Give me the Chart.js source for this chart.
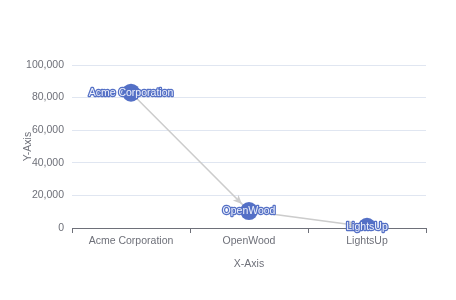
<!DOCTYPE html>
<html>
<head>
<meta charset="utf-8">
<script src="https://cdn.jsdelivr.net/npm/chart.js@4/dist/chart.umd.min.js"></script>
<style>
  html, body { margin: 0; padding: 0; background: #fff; }
  #wrap { width: 456px; height: 300px; }
</style>
</head>
<body>
<div id="wrap"><canvas id="graph"></canvas></div>
<script>
var companies = ['Acme Corporation', 'OpenWood', 'LightsUp'];
var revenue = [83000, 10400, 700];
var yTicks = [0, 20000, 40000, 60000, 80000, 100000];

var blue = '#5470c6';
var axisGrey = '#6E7079';
var edgeGrey = '#cccccc';
var font = { family: 'Liberation Sans, Arial, sans-serif', size: 10.5 };

// arrow heads on each edge, stopping at the next node
var arrowPlugin = {
    id: 'arrows',
    afterDatasetsDraw: function (chart) {
        var pts = chart.getDatasetMeta(0).data;
        var c = chart.ctx;
        for (var i = 0; i < pts.length - 1; i++) {
            var a = pts[i], b = pts[i + 1];
            var ang = Math.atan2(b.y - a.y, b.x - a.x);
            var tipX = b.x - Math.cos(ang) * 10;
            var tipY = b.y - Math.sin(ang) * 10;
            c.save();
            c.translate(tipX, tipY);
            c.rotate(ang);
            c.beginPath();
            c.moveTo(0, 0);
            c.lineTo(-9, -4);
            c.lineTo(-6.5, 0);
            c.lineTo(-9, 4);
            c.closePath();
            c.fillStyle = edgeGrey;
            c.fill();
            c.restore();
        }
    }
};

// node names drawn on top of each circle
var labelPlugin = {
    id: 'nodeLabels',
    afterDatasetsDraw: function (chart) {
        var pts = chart.getDatasetMeta(0).data;
        var c = chart.ctx;
        c.save();
        c.font = font.size + 'px ' + font.family;
        c.textAlign = 'center';
        c.textBaseline = 'middle';
        c.lineJoin = 'round';
        pts.forEach(function (p, i) {
            c.lineWidth = 2.5;
            c.strokeStyle = blue;
            c.strokeText(companies[i], p.x, p.y);
            c.fillStyle = '#eef1fb';
            c.fillText(companies[i], p.x, p.y);
        });
        c.restore();
    }
};

new Chart(document.getElementById('graph'), {
    type: 'line',
    data: {
        labels: companies,
        datasets: [{
            data: revenue,
            borderColor: edgeGrey,
            borderWidth: 1.5,
            pointRadius: 9,
            pointHoverRadius: 9,
            pointBackgroundColor: blue,
            pointBorderWidth: 0,
            tension: 0
        }]
    },
    options: {
        responsive: true,
        maintainAspectRatio: false,
        animation: false,
        layout: { padding: { left: 18, top: 65, right: 30, bottom: 26 } },
        plugins: { legend: { display: false }, tooltip: { enabled: false } },
        scales: {
            x: {
                offset: true,
                grid: { display: true, offset: true, drawOnChartArea: false, drawTicks: true, tickLength: 5, color: axisGrey },
                border: { display: true, color: axisGrey, width: 1 },
                ticks: { color: axisGrey, font: font, padding: 2, maxRotation: 0 },
                title: { display: true, text: 'X-Axis', color: axisGrey, font: font, padding: { top: 4, bottom: 4 } },
                afterFit: function (s) { s.height = 46; }
            },
            y: {
                min: 0,
                max: 100000,
                afterBuildTicks: function (s) { s.ticks = yTicks.map(function (v) { return { value: v }; }); },
                grid: { color: '#E0E6F1', drawTicks: false },
                border: { display: false },
                ticks: {
                    color: axisGrey, font: font, padding: 8,
                    callback: function (v) { return v.toLocaleString('en-US'); }
                },
                title: { display: true, text: 'Y-Axis', color: axisGrey, font: font, padding: { top: 4, bottom: 4 } },
                afterFit: function (s) { s.width = 54; }
            }
        }
    },
    plugins: [arrowPlugin, labelPlugin]
});
</script>
</body>
</html>
